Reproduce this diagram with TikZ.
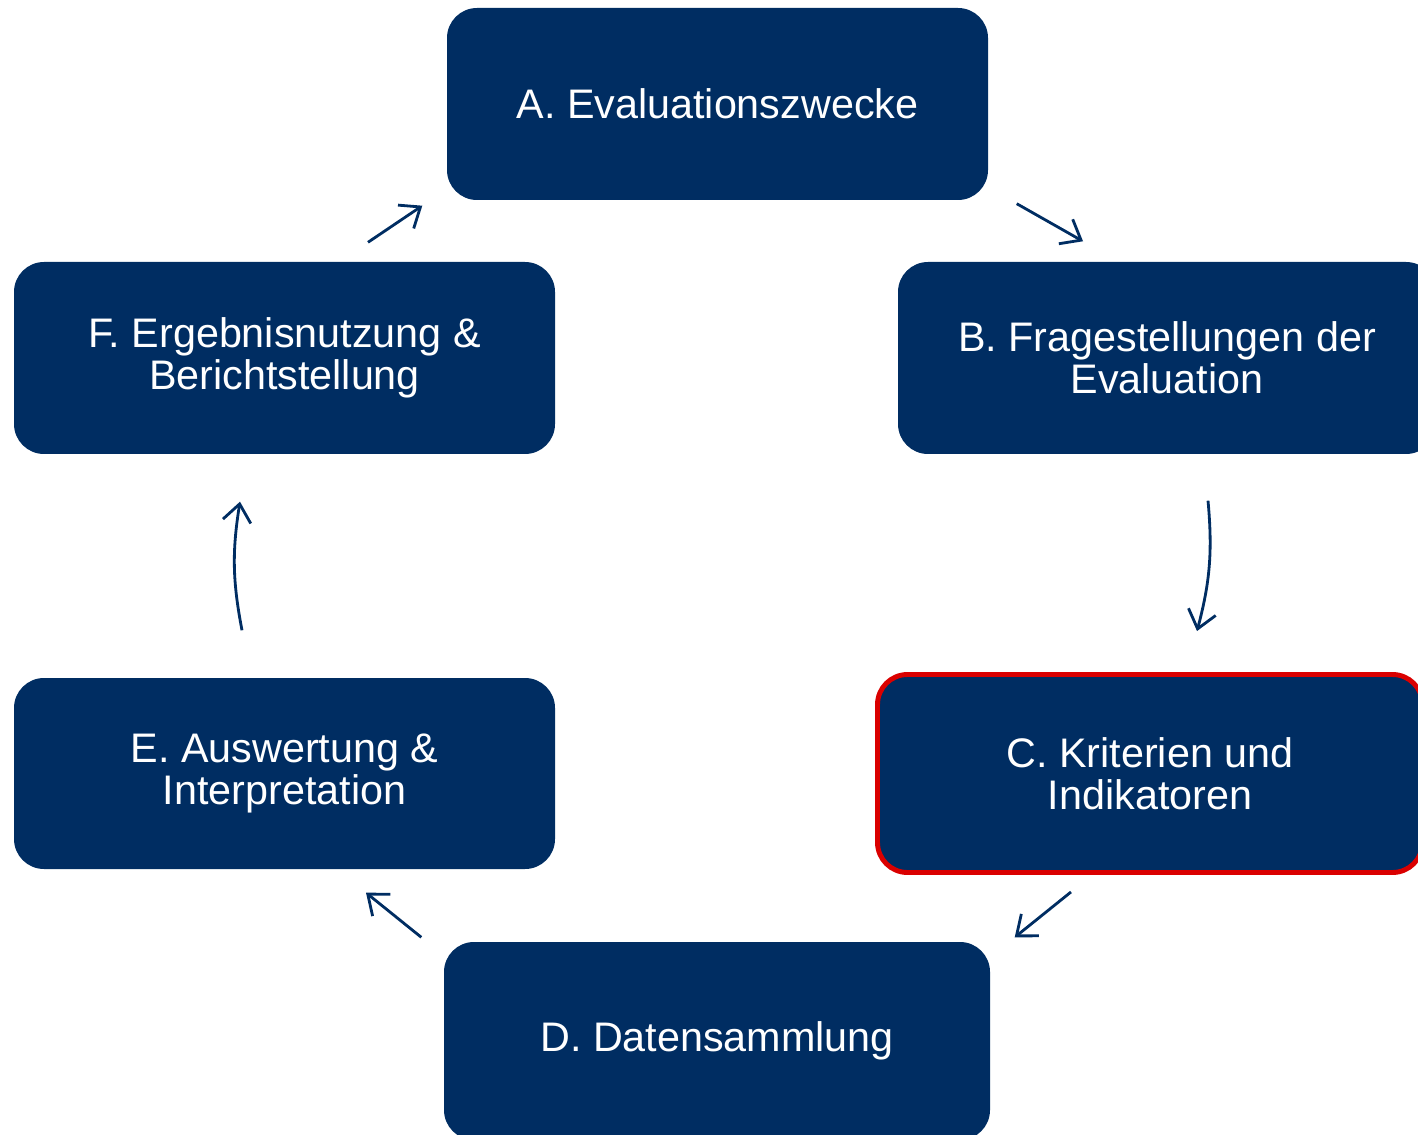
\documentclass[tikz,border=0pt]{standalone}
\usepackage{fontspec}
\setmainfont{Liberation Sans}
\usetikzlibrary{arrows.meta}
\definecolor{boxblue}{RGB}{0,45,98}
\definecolor{markred}{RGB}{218,0,0}

\begin{document}
\begin{tikzpicture}[auto=center,
		box/.style={fill=boxblue, text=white, rounded corners=0.3cm, inner sep=0pt, align=center, font=\fontsize{11.75pt}{12pt}\selectfont},
		flow/.style={draw=boxblue, line width=0.8pt, -{Straight Barb[length=5pt,width=8pt]}}]
			\useasboundingbox (0,0) rectangle (14.18,11.34);

			\node[box, minimum width=5.41cm, minimum height=1.92cm] (A) at (7.175,10.30) {A. Evaluationszwecke};
			\node[box, minimum width=5.38cm, minimum height=1.92cm] (B) at (11.67,7.76) {B. Fragestellungen der\\Evaluation};
			\node[box, draw=markred, line width=1.4pt, minimum width=5.45cm, minimum height=1.98cm] (C) at (11.50,3.605) {C. Kriterien und\\Indikatoren};
			\node[box, minimum width=5.46cm, minimum height=1.98cm] (D) at (7.17,0.93) {D. Datensammlung};
			\node[box, minimum width=5.41cm, minimum height=1.91cm] (E) at (2.845,3.605) {E. Auswertung \&\\Interpretation};
			\node[box, minimum width=5.41cm, minimum height=1.92cm] (F) at (2.845,7.76) {F. Ergebnisnutzung \&\\Berichtstellung};

			%\draw [help lines] (0,0) grid (14,11);
			\draw[flow] ([xshift=0.28cm,yshift=-0.03cm]A.south east) -- ([xshift=-0.84cm,yshift=0.20cm]B.north);
			\draw[flow] ([xshift=0.41cm,yshift=-0.46cm]B.south) to[bend left=10] ([xshift=0.47cm,yshift=0.41cm]C.north);
			\draw[flow] ([xshift=-0.79cm,yshift=-0.17cm]C.south) -- ([xshift=0.24cm,yshift=0.04cm]D.north east);
			\draw[flow] ([xshift=-0.22cm,yshift=0.04cm]D.north west) -- ([xshift=0.815cm,yshift=-0.23cm]E.south);
			\draw[flow] ([xshift=-0.425cm,yshift=0.47cm]E.north) to[bend left=10] ([xshift=-0.445cm,yshift=-0.47cm]F.south);
			\draw[flow] ([xshift=0.835cm,yshift=0.19cm]F.north) -- ([xshift=-0.24cm,yshift=-0.05cm]A.south west);
		\end{tikzpicture}
\end{document}
